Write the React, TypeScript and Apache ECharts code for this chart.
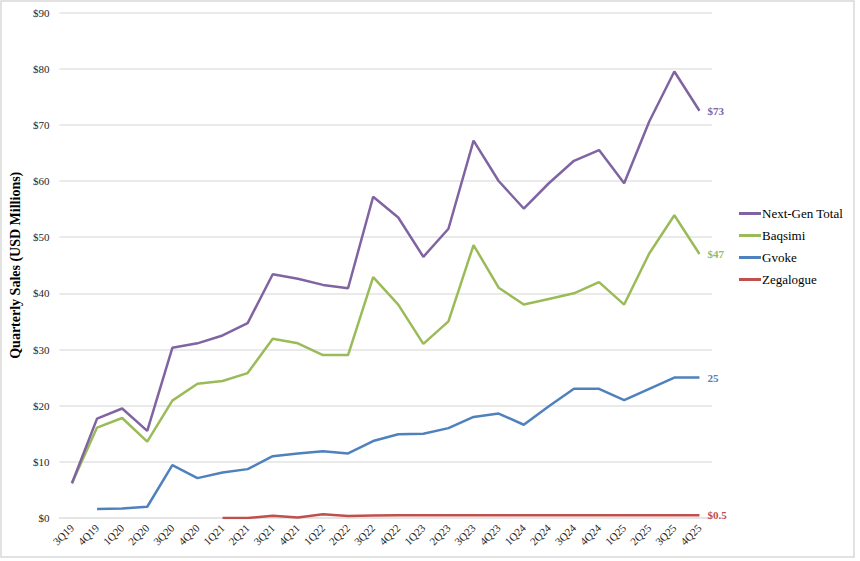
import React, { useEffect, useRef } from "react";
import * as echarts from "echarts";

const quarters = [
  "3Q19", "4Q19", "1Q20", "2Q20", "3Q20", "4Q20", "1Q21", "2Q21", "3Q21", "4Q21",
  "1Q22", "2Q22", "3Q22", "4Q22", "1Q23", "2Q23", "3Q23", "4Q23", "1Q24", "2Q24",
  "3Q24", "4Q24", "1Q25", "2Q25", "3Q25", "4Q25",
];

const nextGenTotal = [
  6.2, 17.7, 19.5, 15.5, 30.3, 31.1, 32.5, 34.7, 43.4, 42.6,
  41.5, 40.9, 57.2, 53.5, 46.5, 51.5, 67.2, 60.0, 55.1, 59.6,
  63.6, 65.5, 59.6, 70.6, 79.5, 72.5,
];

const baqsimi = [
  6.2, 16.1, 17.8, 13.6, 20.9, 23.9, 24.4, 25.8, 31.9, 31.1,
  29.0, 29.0, 42.9, 38.0, 31.0, 35.0, 48.6, 41.0, 38.0, 39.0,
  40.0, 42.0, 38.0, 47.1, 53.9, 47.0,
];

const gvoke = [
  null, 1.6, 1.7, 2.0, 9.4, 7.1, 8.1, 8.7, 11.0, 11.5,
  11.9, 11.5, 13.7, 14.9, 15.0, 16.0, 18.0, 18.6, 16.6, 19.9,
  23.0, 23.0, 21.0, 23.0, 25.0, 25.0,
];

const zegalogue = [
  null, null, null, null, null, null, 0.0, 0.0, 0.4, 0.1,
  0.65, 0.35, 0.45, 0.5, 0.5, 0.5, 0.5, 0.5, 0.5, 0.5,
  0.5, 0.5, 0.5, 0.5, 0.5, 0.5,
];

const seriesNames = ["Next-Gen Total", "Baqsimi", "Gvoke", "Zegalogue"];
const endLabels = ["$73", "$47", "25", "$0.5"];
const colors = ["#8064A2", "#9BBB59", "#4F81BD", "#C0504D"];
const yTicks = { min: 0, max: 90, interval: 10 };

const FONT = "'Liberation Serif', 'Times New Roman', serif";

export default function App() {
  const ref = useRef<HTMLDivElement>(null);

  useEffect(() => {
    document.body.style.margin = "0";
    if (!ref.current) return;
    const chart = echarts.init(ref.current, undefined, { renderer: "svg" });
    const dataSets = [nextGenTotal, baqsimi, gvoke, zegalogue];

    chart.setOption({
      animation: false,
      textStyle: { fontFamily: FONT },
      graphic: [
        {
          type: "rect",
          shape: { x: 1, y: 1, width: 853, height: 556 },
          style: { fill: "none", stroke: "#d9d9d9", lineWidth: 1.5 },
          silent: true,
        },
      ],
      grid: { left: 58, right: 148, top: 12.5, bottom: 43 },
      legend: {
        orient: "vertical",
        left: 739,
        top: 207,
        padding: 0,
        itemWidth: 22,
        itemHeight: 3,
        itemGap: 9,
        icon: "rect",
        data: seriesNames,
        textStyle: { fontFamily: FONT, fontSize: 13, color: "#000", padding: [0, 0, 0, -4] },
      },
      xAxis: {
        type: "category",
        data: quarters,
        boundaryGap: true,
        axisLine: { show: true, lineStyle: { color: "#e3e3e3", width: 1.5 } },
        axisTick: { show: false },
        axisLabel: {
          rotate: 45,
          interval: 0,
          margin: 8,
          fontFamily: FONT,
          fontSize: 11,
          color: "#262626",
        },
      },
      yAxis: {
        type: "value",
        min: yTicks.min,
        max: yTicks.max,
        interval: yTicks.interval,
        name: "Quarterly Sales (USD Millions)",
        nameLocation: "middle",
        nameGap: 27,
        nameTextStyle: { fontFamily: FONT, fontSize: 14, fontWeight: "bold", color: "#000" },
        axisLine: { show: false },
        axisTick: { show: false },
        splitLine: { lineStyle: { color: "#e3e3e3", width: 1.5 } },
        axisLabel: {
          margin: 10,
          fontFamily: FONT,
          fontSize: 11,
          color: "#262626",
          formatter: (v: number) => "$" + v,
        },
      },
      series: seriesNames.map((name, i) => ({
        name,
        type: "line",
        data: dataSets[i],
        symbol: "none",
        showSymbol: false,
        connectNulls: false,
        lineStyle: { color: colors[i], width: 2.5 },
        itemStyle: { color: colors[i] },
        z: 10 - i,
        endLabel: {
          show: true,
          formatter: () => endLabels[i],
          distance: 8,
          color: colors[i],
          fontFamily: FONT,
          fontSize: 11,
          fontWeight: "bold",
        },
      })),
    });

    return () => chart.dispose();
  }, []);

  return <div ref={ref} style={{ width: 860, height: 561 }} />;
}
